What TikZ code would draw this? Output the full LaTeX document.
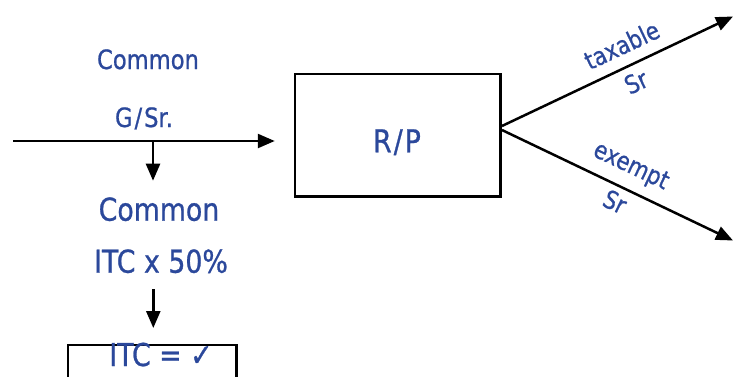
\documentclass[tikz,border=0pt]{standalone}
\usepackage{fontspec}
\setmainfont[FakeStretch=0.85, FakeBold=0.8]{DejaVu Sans}
\usetikzlibrary{arrows.meta}
\definecolor{txtblue}{RGB}{43,72,155}
\begin{document}
\begin{tikzpicture}[x=1pt,y=-1pt,
  lbl/.style={text=txtblue, inner sep=0pt, anchor=base},
  conn/.style={line width=2.5pt, -{Triangle[length=17pt,width=14pt]}},
  boxst/.style={draw, line width=2.5pt, inner sep=0pt},
  fsA/.style={font=\fontsize{26.6pt}{30pt}\selectfont},
  fsB/.style={font=\fontsize{31.5pt}{36pt}\selectfont},
  fsC/.style={font=\fontsize{25pt}{28pt}\selectfont},
]
\useasboundingbox (0,0) rectangle (733,376);
% labels left
\node[lbl, fsA] (cmn1) at (148,69) {Common};
\node[lbl, fsA] (gsr) at (144,127) {G\kern2pt/\kern2pt Sr.};
\node[lbl, fsB] (cmn2) at (159,220.7) {Common};
\node[lbl, fsB] (itc50) at (161,272.7) {ITC x 50\%};
% R/P box
\node[boxst, minimum width=205.7pt, minimum height=122.7pt] (rp) at (397.85,135.35) {};
\node[lbl, fsB] (rptext) at (397,152.3) {R\kern2pt/\kern2pt P};
% ITC box
\node[boxst, minimum width=168.3pt, minimum height=60pt, anchor=north west] (itcbox) at (66.7,343.5) {};
\node[lbl, fsB] (itctext) at (161,366) {ITC = ✓};
% coordinates
\coordinate (inL) at (13,141);
\coordinate (jn) at (153,141);
\coordinate (d1) at (153,180.7);
\coordinate (d2s) at (153.3,289);
\coordinate (d2e) at (153.3,328);
\coordinate (tx) at (733,16.5);
\coordinate (ex) at (733,240.5);
% connectors
\draw[conn, shorten >=19pt] (inL) -- (inL -| rp.west);
\draw[conn] (jn) -- (d1);
\draw[conn] (d2s) -- (d2e);
\draw[conn] ([yshift=9.35pt]rp.east) -- (tx);
\draw[conn] ([yshift=5.35pt]rp.east) -- (ex);
% branch labels
\node[text=txtblue, inner sep=0pt, fsC, rotate=25.3] (taxl) at (621.7,45) {taxable};
\node[text=txtblue, inner sep=0pt, fsC, rotate=25.3] (sr1) at (636,82) {Sr};
\node[text=txtblue, inner sep=0pt, fsC, rotate=-25.4] (exl) at (630.7,167) {exempt};
\node[text=txtblue, inner sep=0pt, fsC, rotate=-25.4] (sr2) at (615,201.7) {Sr};
\end{tikzpicture}
\end{document}
